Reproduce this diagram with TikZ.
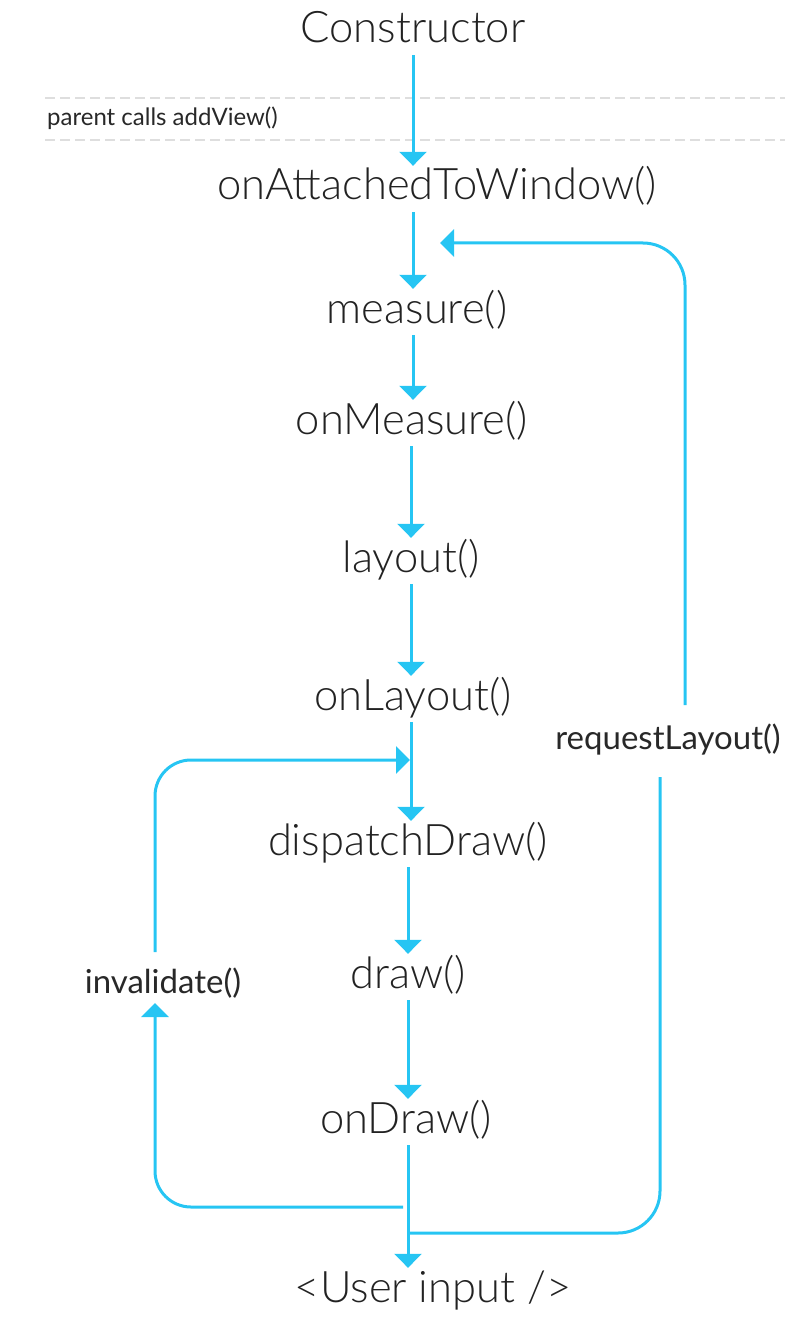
\documentclass[tikz,border=0pt]{standalone}
\usepackage{fontspec}
\setmainfont{Lato Light}
\newfontfamily\lblfont{Lato}
\usetikzlibrary{arrows.meta}
\definecolor{flow}{RGB}{38,197,243}
\definecolor{txt}{RGB}{34,34,34}
\definecolor{sidetxt}{RGB}{40,40,40}
\definecolor{dashgrey}{RGB}{222,222,222}
\begin{document}
\begin{tikzpicture}[x=1pt,y=-1pt,
  mainlbl/.style={font=\fontsize{43.5}{50}\selectfont, text=txt, inner sep=0pt, anchor=base, text height=30pt, text depth=9pt},
  sidelbl/.style={font=\lblfont\fontsize{33}{38}\selectfont, text=sidetxt, inner sep=0pt, anchor=base},
  smalllbl/.style={font=\lblfont\fontsize{24}{28}\selectfont, text=sidetxt, inner sep=0pt, anchor=base west},
  flowline/.style={draw=flow, line width=3pt},
  arr/.style={flowline, -{Triangle[width=27pt,length=14pt]}},
  stepline/.style={arr, shorten <=3pt, shorten >=4pt},
  sepline/.style={draw=dashgrey, line width=2pt, dash pattern=on 10pt off 5pt}
]
\useasboundingbox (0,0) rectangle (810,1324);

% separator lines
\coordinate (d1a) at (45,98);  \coordinate (d1b) at (785,98);
\coordinate (d2a) at (45,140); \coordinate (d2b) at (785,140);
\draw[sepline] (d1a) -- (d1b);
\draw[sepline] (d2a) -- (d2b);
\node[smalllbl] (pca) at (47,126) {parent calls addView()};

% main nodes
\node[mainlbl] (con) at (413,43)   {Constructor};
\node[mainlbl] (att) at (437,200)  {onAttachedToWindow()};
\node[mainlbl] (mea) at (417,323)  {measure()};
\node[mainlbl] (onm) at (412,434)  {onMeasure()};
\node[mainlbl] (lay) at (411,572)  {layout()};
\node[mainlbl] (onl) at (413,710)  {onLayout()};
\node[mainlbl] (dis) at (408,855)  {dispatchDraw()};
\node[mainlbl] (drw) at (408,988)  {draw()};
\node[mainlbl] (ond) at (406,1133) {onDraw()};
\node[mainlbl] (usr) at (433,1302) {<User input />};

\node[sidelbl] (rql) at (668,749) {requestLayout()};
\node[sidelbl] (inv) at (163,993) {invalidate()};

% spine coordinates
\coordinate (x1) at (413,0);
\coordinate (x2) at (411,0);
\coordinate (x3) at (408,0);

% main flow
\draw[stepline] (con.south -| x1) -- (att.north -| x1);
\draw[stepline] (att.south -| x1) -- (mea.north -| x1);
\draw[stepline] (mea.south -| x1) -- (onm.north -| x1);
\draw[stepline] (onm.south -| x2) -- (lay.north -| x2);
\draw[stepline] (lay.south -| x2) -- (onl.north -| x2);
\draw[stepline] (onl.south -| x2) -- (dis.north -| x2);
\draw[stepline] (dis.south -| x3) -- (drw.north -| x3);
\draw[stepline] (drw.south -| x3) -- (ond.north -| x3);
\draw[stepline] (ond.south -| x3) -- (usr.north -| x3);

% requestLayout loop
\coordinate (rqA) at (410,1233);
\coordinate (rqB) at (660,777);
\coordinate (rqC) at (685,705);
\coordinate (rqD) at (440,243);
\draw[flowline, rounded corners=42pt] (rqA) -- (660,1233) -- (rqB);
\draw[arr, rounded corners=42pt] (rqC) -- (685,243) -- (rqD);

% invalidate loop
\coordinate (ivA) at (403,1207);
\coordinate (ivB) at (155,1003);
\coordinate (ivC) at (155,952);
\coordinate (ivD) at (410,760);
\draw[arr, rounded corners=36pt] (ivA) -- (155,1207) -- (ivB);
\draw[arr, rounded corners=36pt] (ivC) -- (155,760) -- (ivD);
\end{tikzpicture}
\end{document}
